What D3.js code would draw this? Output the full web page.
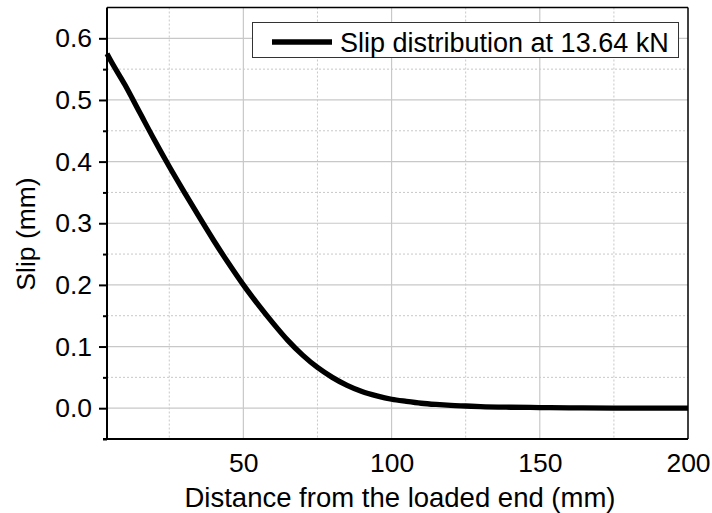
<!DOCTYPE html>
<html><head><meta charset="utf-8">
<script src="https://cdn.jsdelivr.net/npm/d3@7"></script>
<style>body{margin:0;background:#fff}text{font-family:"Liberation Sans",Arial,sans-serif;fill:#000}</style>
</head><body><svg id="c" width="712" height="513"></svg>
<script>
const distance = [4,5,10,15,20,25,30,35,40,45,50,55,60,65,70,75,80,85,90,95,100,105,110,115,120,125,130,140,150,160,175,200];
const slip = [0.575,0.566,0.525,0.48,0.435,0.392,0.351,0.311,0.272,0.235,0.200,0.168,0.138,0.110,0.086,0.066,0.050,0.037,0.027,0.020,0.0145,0.011,0.008,0.006,0.0045,0.0035,0.0025,0.0015,0.001,0.0005,0.0002,0.0];
const xMajor = [50,100,150,200];
const xMinor = [25,75,125,175];
const yMajor = [0,0.1,0.2,0.3,0.4,0.5,0.6];
const yMinor = [-0.05,0.05,0.15,0.25,0.35,0.45,0.55];
const legendLabel = "Slip distribution at 13.64 kN";

const svg = d3.select("#c");
const L=107,R=688,T=7.5,B=439;
const x = d3.scaleLinear().domain([4,200]).range([L,R]);
const y = d3.scaleLinear().domain([-0.05,0.65]).range([B,T]);
const g = svg.append("g");
// grid
g.selectAll(".gxm").data(xMinor).join("line").attr("x1",d=>x(d)).attr("x2",d=>x(d)).attr("y1",T).attr("y2",B)
 .attr("stroke","#c8c8c8").attr("stroke-width",1).attr("stroke-dasharray","2,2");
g.selectAll(".gym").data(yMinor.filter(d=>d>-0.05)).join("line").attr("y1",d=>y(d)).attr("y2",d=>y(d)).attr("x1",L).attr("x2",R)
 .attr("stroke","#c8c8c8").attr("stroke-width",1).attr("stroke-dasharray","2,2");
g.selectAll(".gxM").data(xMajor.filter(d=>d<200)).join("line").attr("x1",d=>x(d)).attr("x2",d=>x(d)).attr("y1",T).attr("y2",B)
 .attr("stroke","#c8c8c8").attr("stroke-width",1.2);
g.selectAll(".gyM").data(yMajor).join("line").attr("y1",d=>y(d)).attr("y2",d=>y(d)).attr("x1",L).attr("x2",R)
 .attr("stroke","#c8c8c8").attr("stroke-width",1.2);

// curve
const line = d3.line().x((d,i)=>x(distance[i])).y((d,i)=>y(slip[i])).curve(d3.curveMonotoneX);
svg.append("path").datum(slip).attr("d",line).attr("fill","none").attr("stroke","#000").attr("stroke-width",5.3);

// frame
svg.append("line").attr("x1",L).attr("x2",R).attr("y1",T).attr("y2",T).attr("stroke","#000").attr("stroke-width",1.5);
svg.append("line").attr("x1",R).attr("x2",R).attr("y1",T).attr("y2",B).attr("stroke","#000").attr("stroke-width",1.5);

// y axis
const yAxis = d3.axisLeft(y).tickValues(yMajor).tickFormat(d3.format(".1f")).tickSize(8).tickPadding(7);
const ya = svg.append("g").attr("transform",`translate(${L},0)`).call(yAxis);
ya.select(".domain").attr("stroke-width",2).attr("d",`M0,${T}V${B}`);
ya.selectAll(".tick line").attr("stroke-width",2);
ya.selectAll(".tick text").attr("font-size",26.5).attr("font-family","Liberation Sans, Arial, sans-serif");
const yMin = d3.axisLeft(y).tickValues(yMinor).tickFormat("").tickSize(4);
const ym = svg.append("g").attr("transform",`translate(${L},0)`).call(yMin);
ym.select(".domain").remove();
ym.selectAll(".tick line").attr("stroke-width",2);

// x axis
const xAxis = d3.axisBottom(x).tickValues(xMajor).tickSize(0).tickPadding(14);
const xa = svg.append("g").attr("transform",`translate(0,${B})`).call(xAxis);
xa.select(".domain").attr("stroke-width",2).attr("d",`M${L-4},0H${R}`);
xa.selectAll(".tick text").attr("font-size",26.5).attr("font-family","Liberation Sans, Arial, sans-serif");

// titles
svg.append("text").attr("x",400).attr("y",507).attr("text-anchor","middle").attr("font-size",27.5).text("Distance from the loaded end (mm)");
svg.append("text").attr("transform","translate(35,234) rotate(-90)").attr("text-anchor","middle").attr("font-size",26.5).text("Slip (mm)");

// legend
svg.append("rect").attr("x",252.5).attr("y",22.5).attr("width",426).attr("height",35).attr("fill","#fff").attr("stroke","#333").attr("stroke-width",1);
svg.append("line").attr("x1",272).attr("x2",332).attr("y1",42).attr("y2",42).attr("stroke","#000").attr("stroke-width",5.3);
svg.append("text").attr("x",340).attr("y",51.5).attr("font-size",27).text(legendLabel);
</script></body></html>
